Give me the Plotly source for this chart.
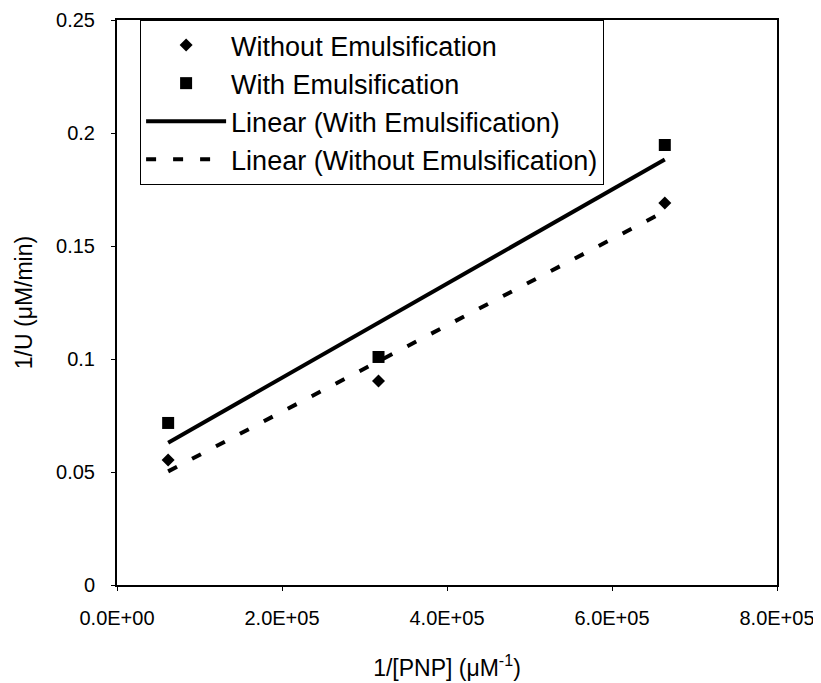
import numpy as np
import plotly.graph_objects as go

# Data
x_pnp = [0.62e5, 3.17e5, 6.64e5]          # 1/[PNP] (uM^-1)
y_without = [0.0553, 0.0903, 0.169]       # 1/U without emulsification
y_with = [0.0717, 0.1009, 0.1947]         # 1/U with emulsification

x_tickvals = [0, 2e5, 4e5, 6e5, 8e5]
x_ticktext = ["0.0E+00", "2.0E+05", "4.0E+05", "6.0E+05", "8.0E+05"]
y_tickvals = [0, 0.05, 0.1, 0.15, 0.2, 0.25]
y_ticktext = ["0", "0.05", "0.1", "0.15", "0.2", "0.25"]

# Linear trend lines (least squares, as in the original chart)
xs = np.array(x_pnp)
fit_with = np.polyfit(xs, np.array(y_with), 1)
fit_without = np.polyfit(xs, np.array(y_without), 1)
x_line = [xs.min(), xs.max()]
y_line_with = list(np.polyval(fit_with, x_line))
y_line_without = list(np.polyval(fit_without, x_line))

FONT = "Liberation Sans, Arial, sans-serif"

fig = go.Figure()
fig.add_trace(go.Scatter(x=x_pnp, y=y_without, mode="markers",
                         name="Without Emulsification",
                         marker=dict(symbol="diamond", size=10, color="black")))
fig.add_trace(go.Scatter(x=x_pnp, y=y_with, mode="markers",
                         name="With Emulsification",
                         marker=dict(symbol="square", size=12, color="black")))
fig.add_trace(go.Scatter(x=x_line, y=y_line_with, mode="lines",
                         name="Linear (With Emulsification)",
                         line=dict(color="black", width=4)))
fig.add_trace(go.Scatter(x=x_line, y=y_line_without, mode="lines",
                         name="Linear (Without Emulsification)",
                         line=dict(color="black", width=4, dash="10px,17px")))

# page body has an 8px default margin, so the figure is 8px smaller
fig.update_layout(
    width=813, height=675,
    margin=dict(l=109, r=44, t=12, b=98, autoexpand=False),
    paper_bgcolor="white", plot_bgcolor="white",
    font=dict(family=FONT, color="black", size=20),
    showlegend=True,
    legend=dict(x=0.035, y=1.0, xanchor="left", yanchor="top",
                bgcolor="white", bordercolor="black", borderwidth=1,
                font=dict(size=27, family=FONT), itemwidth=80,
                traceorder="normal"),
    xaxis=dict(range=[0, 8e5], tickvals=x_tickvals, ticktext=x_ticktext,
               showgrid=False, zeroline=False, showline=True, linecolor="black",
               linewidth=2, mirror=True, ticks="outside", ticklen=4,
               tickcolor="black", tickfont=dict(size=20), automargin=False,
               ticklabelstandoff=10,
               title=dict(text="1/[PNP] (μM<sup>-1</sup>)", font=dict(size=23),
                          standoff=32)),
    yaxis=dict(range=[0, 0.25], tickvals=y_tickvals, ticktext=y_ticktext,
               showgrid=False, zeroline=False, showline=True, linecolor="black",
               linewidth=2, mirror=True, ticks="outside", ticklen=4,
               tickcolor="black", tickfont=dict(size=20), automargin=False,
               ticklabelstandoff=12,
               title=dict(text="1/U (μM/min)", font=dict(size=23), standoff=17)),
)

fig.write_html("out.html")
